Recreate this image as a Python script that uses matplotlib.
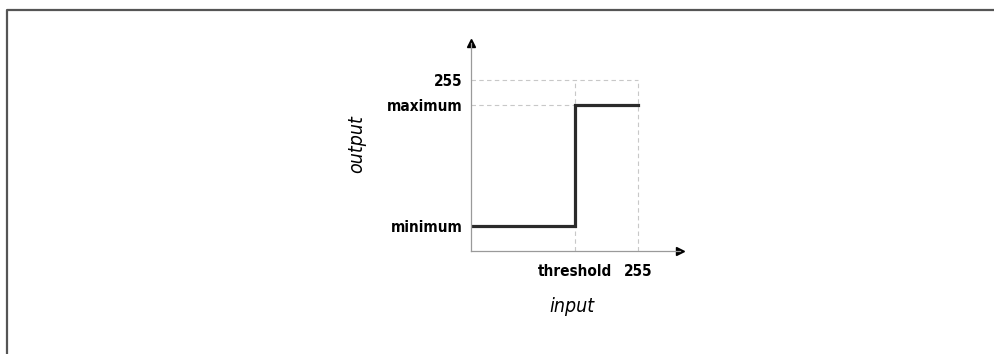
import matplotlib.pyplot as plt
from matplotlib.lines import Line2D
from matplotlib import font_manager

# threshold transfer curve (levels on a 0-255 scale)
threshold = 159
minimum = 37
maximum = 218
top = 255
step_x = [0, threshold, threshold, top]
step_y = [minimum, minimum, maximum, maximum]
x_ticks = [threshold, top]
x_labels = ['threshold', '255']
y_ticks = [minimum, maximum, top]
y_labels = ['minimum', 'maximum', '255']


def narrow_font(bold, italic):
    # look for a condensed face; fall back to plain DejaVu Sans
    best = None
    for f in font_manager.fontManager.ttflist:
        key = (f.name + ' ' + str(f.stretch)).lower()
        if 'narrow' not in key and 'condensed' not in key:
            continue
        if (f.weight in ('bold', 700)) != bold:
            continue
        if (f.style != 'normal') != italic:
            continue
        best = f.fname
        break
    if best:
        return font_manager.FontProperties(fname=best), True
    return font_manager.FontProperties(family='DejaVu Sans',
                                       weight='bold' if bold else 'normal',
                                       style='italic' if italic else 'normal'), False


W, H = 995, 354
fig = plt.figure(figsize=(W / 100, H / 100), dpi=100)

# axes box in pixels: origin at (471, 251), arrows reach (680, 43)
x0, y0, x1, y1 = 471, 251, 680, 43
ax = fig.add_axes([x0 / W, 1 - y0 / H, (x1 - x0) / W, (y0 - y1) / H])
ax.set_xlim(0, 319)
ax.set_ylim(0, 310)

for s in ['top', 'right']:
    ax.spines[s].set_visible(False)
for s in ['left', 'bottom']:
    ax.spines[s].set_color('#9a9a9a')
    ax.spines[s].set_linewidth(0.9)
ax.plot(1, 0, '>', color='black', ms=6, transform=ax.transAxes, clip_on=False)
ax.plot(0, 1, '^', color='black', ms=6, transform=ax.transAxes, clip_on=False)

dash = dict(color='#c8c8c8', lw=0.8, ls=(0, (4, 3)))
ax.plot([0, top], [top, top], **dash)
ax.plot([0, threshold], [maximum, maximum], **dash)
ax.plot([threshold, threshold], [0, top], **dash)
ax.plot([top, top], [0, top], **dash)

ax.plot(step_x, step_y, color='#2a2a2a', lw=2.3, solid_joinstyle='miter')

tick_fp, found = narrow_font(True, False)
tick_fp.set_size(11 if found else 10)
ax.set_xticks(x_ticks)
ax.set_xticklabels(x_labels, fontproperties=tick_fp)
ax.set_yticks(y_ticks)
ax.set_yticklabels(y_labels, fontproperties=tick_fp)
ax.tick_params(length=0)
ax.tick_params(axis='x', pad=9)
ax.tick_params(axis='y', pad=6)

lab_fp, found = narrow_font(False, True)
lab_fp.set_size(14 if found else 11.5)
fig.text(572 / W, 1 - 306 / H, 'input', ha='center', va='center', fontproperties=lab_fp)
fig.text(357 / W, 1 - 144 / H, 'output', ha='center', va='center', rotation=90,
         fontproperties=lab_fp)

# page frame running off the right and bottom edges
fig.add_artist(Line2D([7 / W, 7 / W, 1], [0, 1 - 10 / H, 1 - 10 / H],
                      transform=fig.transFigure, color='#555555', lw=1.6))

fig.savefig('out.png', dpi=100)
